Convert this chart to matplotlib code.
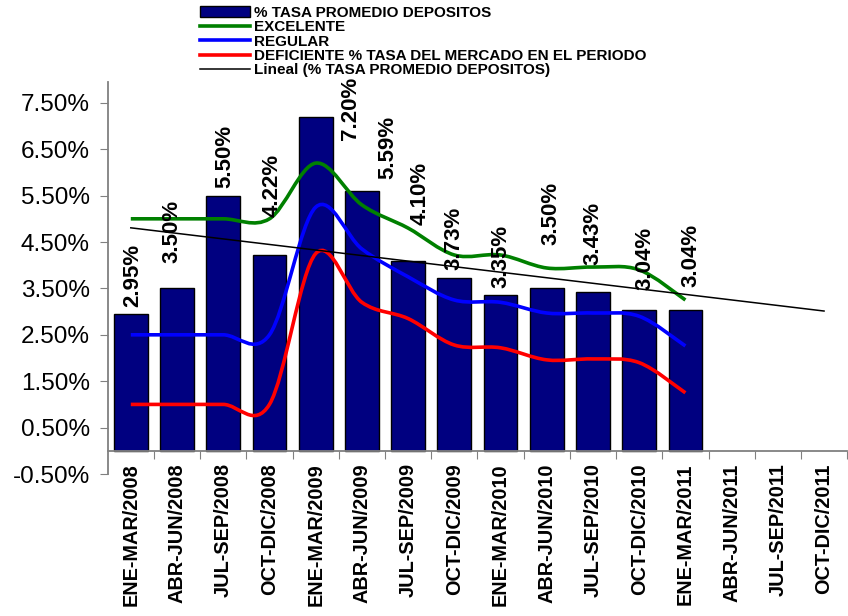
import numpy as np
import matplotlib
matplotlib.use('Agg')
import matplotlib.pyplot as plt
from matplotlib.path import Path
from matplotlib.patches import PathPatch, Patch
from matplotlib.lines import Line2D

plt.rcParams['font.family'] = ['Liberation Sans', 'DejaVu Sans']

# periods on the x axis
periods = ['ENE-MAR/2008', 'ABR-JUN/2008', 'JUL-SEP/2008', 'OCT-DIC/2008',
           'ENE-MAR/2009', 'ABR-JUN/2009', 'JUL-SEP/2009', 'OCT-DIC/2009',
           'ENE-MAR/2010', 'ABR-JUN/2010', 'JUL-SEP/2010', 'OCT-DIC/2010',
           'ENE-MAR/2011', 'ABR-JUN/2011', 'JUL-SEP/2011', 'OCT-DIC/2011']

# % tasa promedio depositos (bars)
tasa = [2.95, 3.50, 5.50, 4.22, 7.20, 5.59, 4.10, 3.73, 3.35, 3.50, 3.43, 3.04, 3.04]
# curves
excelente = [5.0, 5.0, 5.0, 5.0, 6.2, 5.3, 4.8, 4.22, 4.22, 3.94, 3.96, 3.9, 3.25]
regular = [2.5, 2.5, 2.5, 2.5, 5.25, 4.35, 3.75, 3.25, 3.2, 2.97, 2.97, 2.9, 2.26]
deficiente = [1.0, 1.0, 1.0, 1.0, 4.25, 3.2, 2.85, 2.28, 2.22, 1.96, 1.98, 1.9, 1.25]

# where the value labels sit (x shift in categories, bottom of text in %)
lbl_dx = [0.04, -0.1, 0.04, 0.06, 0.75, 0.56, 0.26, 0.0, 0.0, 0.08, 0.0, 0.13, 0.13]
lbl_y = [3.10, 4.05, 5.67, 5.04, 6.70, 5.86, 4.87, 3.90, 3.51, 4.44, 4.00, 3.47, 3.53]


def smooth_path(xs, ys):
    # excel style smoothed line (catmull-rom as bezier)
    pts = np.column_stack([xs, ys]).astype(float)
    n = len(pts)
    verts = [pts[0]]
    codes = [Path.MOVETO]
    for i in range(n - 1):
        p0 = pts[max(i - 1, 0)]
        p1 = pts[i]
        p2 = pts[i + 1]
        p3 = pts[min(i + 2, n - 1)]
        verts += [p1 + (p2 - p0) / 6, p2 - (p3 - p1) / 6, p2]
        codes += [Path.CURVE4] * 3
    return Path(verts, codes)


fig = plt.figure(figsize=(8.48, 6.16), dpi=100)
ax = fig.add_axes([0.127, 0.2305, 0.872, 0.6365])

# spines first, moving them resets the ticks
ax.spines['top'].set_visible(False)
ax.spines['right'].set_visible(False)
ax.spines['bottom'].set_position(('data', 0))
ax.spines['bottom'].set_color('#808080')
ax.spines['left'].set_color('#808080')
ax.spines['bottom'].set_linewidth(1.3)
ax.spines['left'].set_linewidth(1.3)

x = np.arange(len(tasa))
ax.bar(x, tasa, width=0.73, color='#000080', edgecolor='black', linewidth=1, zorder=2)

for vals, col in [(excelente, '#008000'), (regular, '#0000FF'), (deficiente, '#FF0000')]:
    ax.add_patch(PathPatch(smooth_path(x, vals), fill=False, edgecolor=col,
                           linewidth=2.6, capstyle='butt', zorder=3))

# linear trend
coef = np.polyfit(x, tasa, 1)
xt = np.array([0, len(periods) - 1])
ax.plot(xt, np.polyval(coef, xt), color='black', linewidth=1.1, zorder=4)

for i, v in enumerate(tasa):
    ax.text(x[i] + lbl_dx[i], lbl_y[i], f'{v:.2f}%', rotation=90, ha='center', va='bottom',
            fontsize=16, fontweight='bold', clip_on=False, zorder=5)

ax.set_xlim(-0.5, len(periods) - 0.5)
ax.set_ylim(-0.5, 7.95)
yt = np.arange(-0.5, 7.6, 1.0)
ax.set_yticks(yt)
ax.set_yticklabels([f'{t:.2f}%' for t in yt], fontsize=17.5)
ax.set_xticks(np.arange(len(periods)) + 0.5)
ax.set_xticklabels([])
ax.set_xticks(np.arange(len(periods)), minor=True)
ax.set_xticklabels(periods, minor=True, rotation=90, fontsize=14.3, fontweight='bold', va='top')
ax.tick_params(axis='x', which='minor', length=0, pad=9)
ax.tick_params(axis='x', which='major', length=6, color='#808080', direction='out')
ax.tick_params(axis='y', length=6, color='#808080', direction='out', pad=7)

handles = [Patch(facecolor='#000080', edgecolor='black'),
           Line2D([], [], color='#008000', lw=2.6),
           Line2D([], [], color='#0000FF', lw=2.6),
           Line2D([], [], color='#FF0000', lw=2.6),
           Line2D([], [], color='black', lw=1.1)]
labels = ['% TASA PROMEDIO DEPOSITOS', 'EXCELENTE', 'REGULAR',
          'DEFICIENTE % TASA DEL MERCADO EN EL PERIODO', 'Lineal (% TASA PROMEDIO DEPOSITOS)']
fig.legend(handles, labels, loc='upper left', bbox_to_anchor=(0.225, 1.005), frameon=False,
           prop={'size': 11, 'weight': 'bold'}, handlelength=3.3, handletextpad=0.25,
           labelspacing=0.02, borderpad=0.1)

fig.savefig('out.png', dpi=100)
